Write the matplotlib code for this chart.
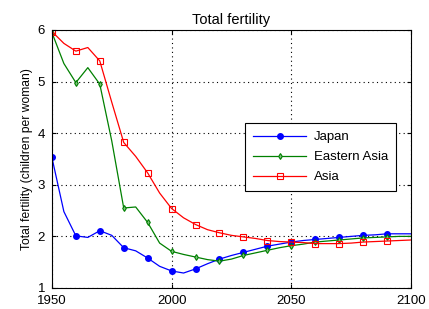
import matplotlib
matplotlib.use('Agg')
import matplotlib.pyplot as plt

years = list(range(1950, 2101, 5))

japan = [3.53, 2.48, 2.01, 1.98, 2.11, 2.02, 1.78, 1.72, 1.58, 1.42,
         1.33, 1.29, 1.37, 1.47, 1.56, 1.63, 1.69, 1.75, 1.81, 1.85,
         1.89, 1.92, 1.94, 1.96, 1.98, 2.00, 2.02, 2.03, 2.05, 2.05, 2.05]

eastern_asia = [5.95, 5.35, 4.98, 5.27, 4.95, 3.85, 2.55, 2.57, 2.27, 1.87,
                1.71, 1.65, 1.60, 1.55, 1.52, 1.56, 1.63, 1.68, 1.73, 1.78,
                1.82, 1.85, 1.89, 1.91, 1.93, 1.95, 1.97, 1.98, 1.99, 2.00, 2.00]

asia = [5.97, 5.74, 5.59, 5.66, 5.40, 4.60, 3.82, 3.55, 3.23, 2.84,
        2.54, 2.36, 2.23, 2.13, 2.07, 2.02, 1.99, 1.96, 1.92, 1.90,
        1.89, 1.88, 1.86, 1.86, 1.86, 1.87, 1.89, 1.90, 1.91, 1.92, 1.93]

plt.rcParams['font.family'] = ['Liberation Sans', 'DejaVu Sans']

fig = plt.figure(figsize=(4.29, 3.09), dpi=100)
ax = fig.add_axes([0.121, 0.068, 0.837, 0.835])

# markers every 10 years, last one at 2090
marks = list(range(0, len(years) - 1, 2))
ax.plot(years, japan, color='#0000ff', lw=0.9, marker='o', ms=4,
        markevery=marks, label='Japan')
ax.plot(years, eastern_asia, color='#008000', lw=0.9, marker='d', ms=3,
        mfc='#80c080', mew=0.8, markevery=marks, label='Eastern Asia')
ax.plot(years, asia, color='#ff0000', lw=0.9, marker='s', ms=4.5,
        mfc='none', mew=0.8, markevery=marks, label='Asia')

ax.set_xlim(1950, 2100)
ax.set_ylim(1, 6)
ax.set_xticks([1950, 2000, 2050, 2100])
ax.set_yticks([1, 2, 3, 4, 5, 6])
ax.tick_params(direction='in', top=True, right=True, labelsize=9.5, length=3)
ax.tick_params(axis='x', pad=5)
ax.tick_params(axis='y', pad=5)
ax.grid(True, color='black', linestyle=(0, (1, 3)), linewidth=0.8)
for s in ax.spines.values():
    s.set_linewidth(0.8)

ax.set_title('Total fertility', fontsize=10.5, pad=4)
ax.set_ylabel('Total fertility (children per woman)', fontsize=8.7, labelpad=3)

leg = ax.legend(loc='upper left', bbox_to_anchor=(0.52, 0.665), fontsize=9.5,
                fancybox=False, framealpha=1, edgecolor='black',
                handlelength=4.0, borderpad=0.6, labelspacing=0.6,
                handletextpad=0.6)
leg.get_frame().set_linewidth(0.8)

fig.savefig('out.png', dpi=100)
